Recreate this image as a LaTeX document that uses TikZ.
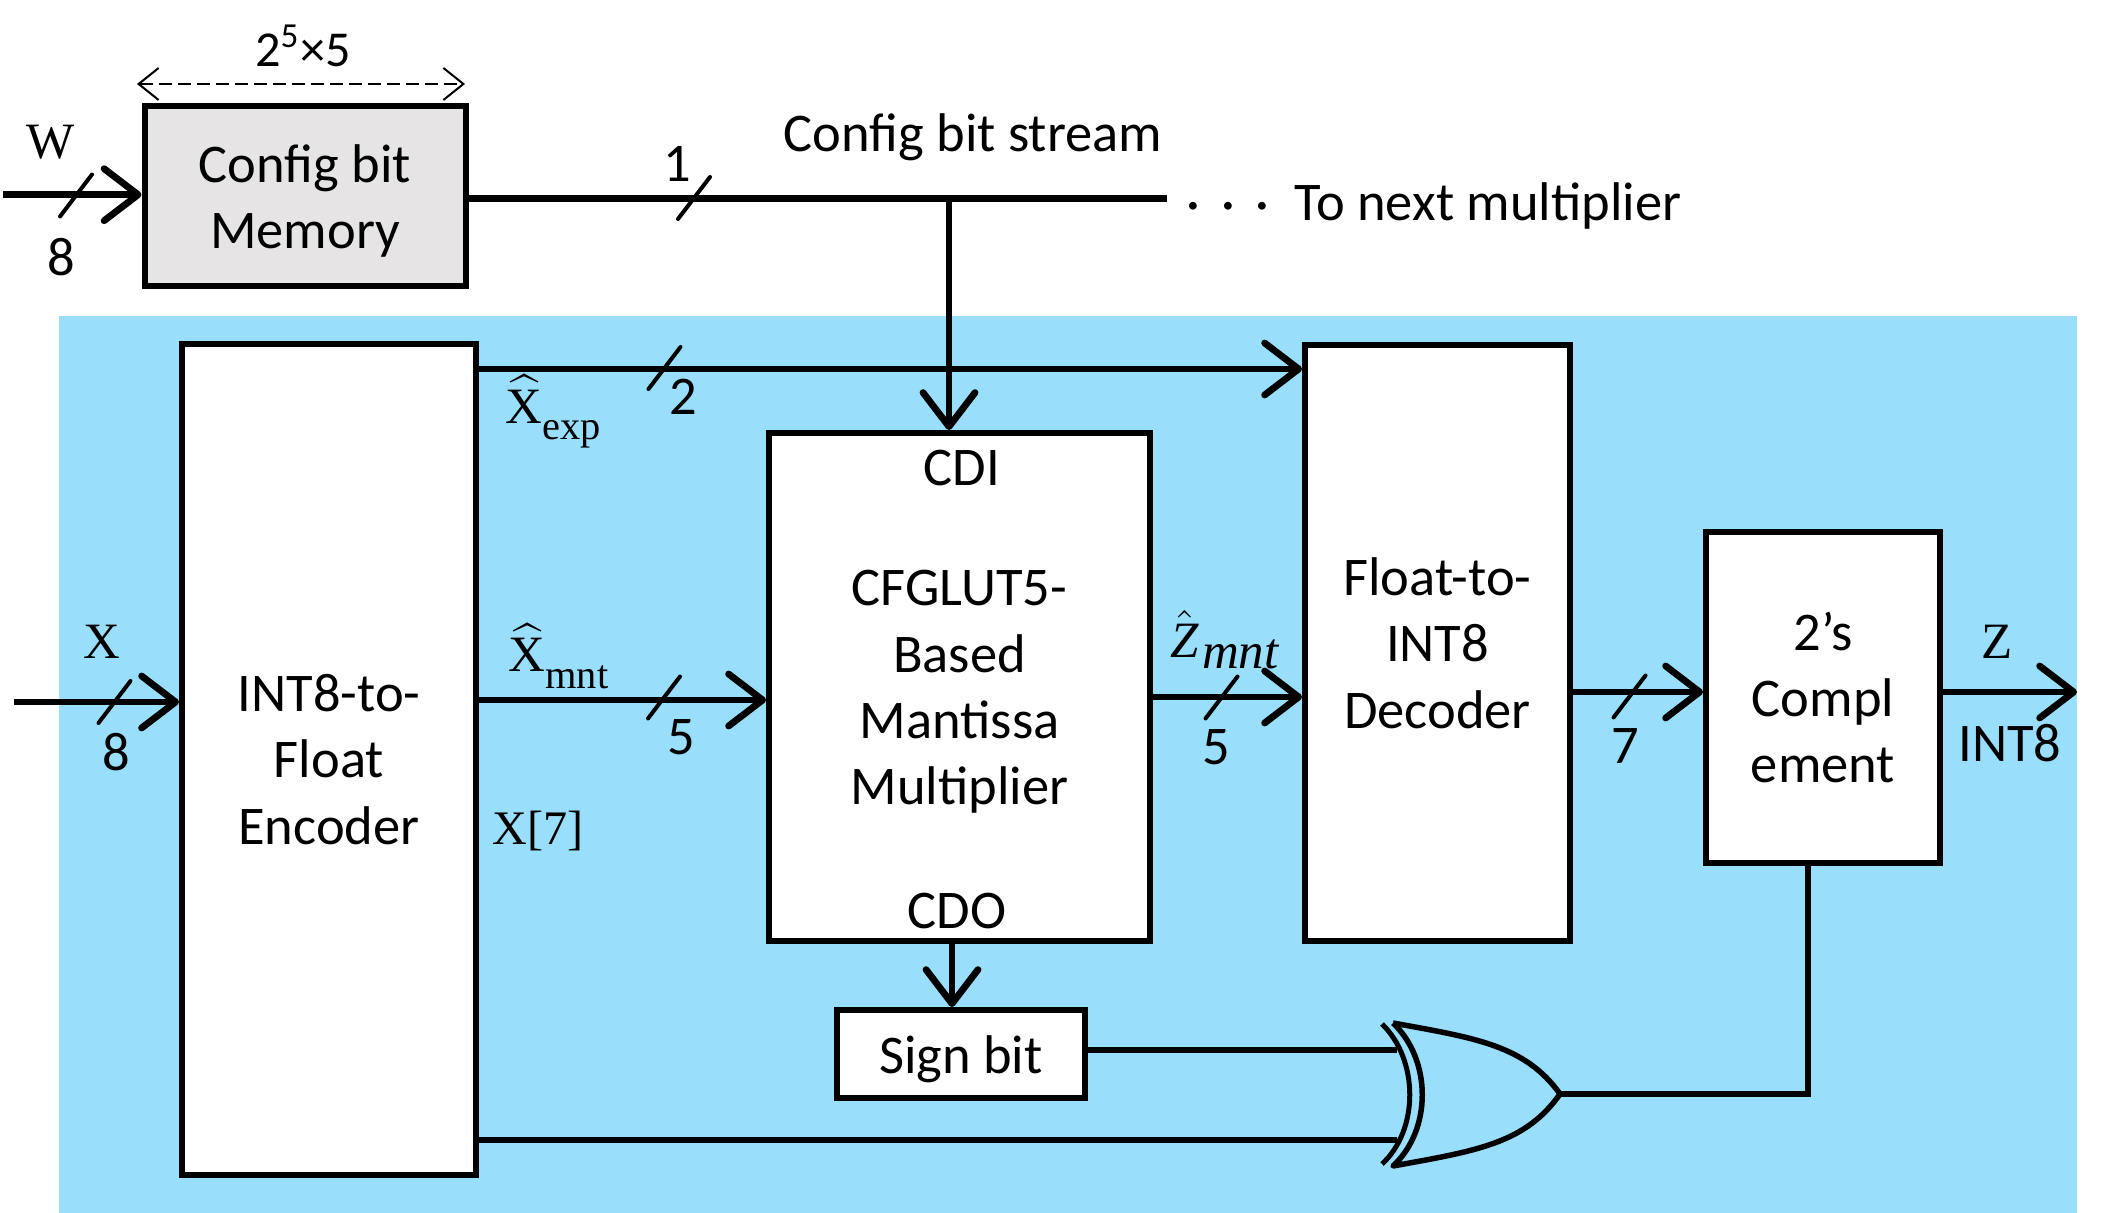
\documentclass[tikz,border=0pt]{standalone}
\usepackage{amsmath}
\usepackage{fontspec}
\setmainfont{Carlito}
\newfontfamily\romain{Liberation Serif}
\usetikzlibrary{arrows.meta}
\definecolor{bleuzone}{HTML}{99DEFB}
\definecolor{grismem}{HTML}{E6E4E5}
\newcommand{\barre}[1]{\draw[trait] ([shift={(-0.16,-0.21)}]#1) -- ([shift={(0.16,0.21)}]#1);}
\newcommand{\haut}[1]{\rule{0pt}{#1}}

\begin{document}
\begin{tikzpicture}
	\tikzset{boite/.style={rectangle, draw=black, fill=white, line width=0.06cm, inner sep=0, font=\fontsize{15.5}{18.9}\selectfont, align=center},
		etiq/.style={inner sep=0, font=\fontsize{15.5}{18.9}\selectfont},
		lettre/.style={inner sep=0, font=\fontsize{14.5}{17}\selectfont\romain},
		fil/.style={line width=0.068cm},
		fleche/.style={fil, ->, >={Straight Barb[length=0.34cm, width=0.52cm, round]}},
		cote/.style={line width=0.02cm, dash pattern=on 0.13cm off 0.06cm, <->, >={Straight Barb[length=0.2cm, width=0.32cm]}},
		trait/.style={line width=0.04cm, line cap=round}};

	\useasboundingbox (0,0) rectangle (21.14,-12.13);
	\fill[bleuzone] (0.59,-3.16) rectangle (20.77,-12.13);

	\node[boite, fill=grismem, minimum width=3.21cm, minimum height=1.80cm] (mem) at (3.05,-1.96) {\haut{13.6pt}Config bit\\Memory};
	\node[boite, minimum width=2.94cm, minimum height=8.31cm] (enc) at (3.29,-7.595) {INT8-to-\\Float\\Encoder};
	\node[boite, minimum width=3.81cm, minimum height=5.08cm] (mult) at (9.595,-6.87) {\haut{12.9pt}CFGLUT5-\\Based\\Mantissa\\Multiplier};
	\node[boite, minimum width=2.65cm, minimum height=5.96cm] (dec) at (14.375,-6.43) {Float-to-\\INT8\\Decoder};
	\node[boite, minimum width=2.34cm, minimum height=3.31cm] (cpl) at (18.23,-6.975) {2’s\\Compl\\ement};
	\node[boite, minimum width=2.48cm, minimum height=0.88cm] (sgn) at (9.61,-10.54) {\haut{13.6pt}Sign bit};

	\node[etiq] (cdi) at (9.62,-4.68) {CDI};
	\node[etiq] (cdo) at (9.57,-9.11) {CDO};
	\node[etiq, font=\fontsize{14.3}{17}\selectfont] (taille) at (3.03,-0.46) {2\textsuperscript{5}×5};
	\node[etiq] (flux) at (9.73,-1.37) {Config bit stream};
	\node[etiq] (suite) at (14.88,-2.06) {To next multiplier};
	\node[etiq] (pts) at (12.28,-2.12) {·\hspace{0.21cm}·\hspace{0.21cm}·};
	\node[etiq] (sort) at (20.10,-7.43) {INT8};

	\node[etiq] (nw) at (0.61,-2.57) {8};
	\node[etiq] (n1) at (6.77,-1.64) {1};
	\node[etiq] (n2) at (6.83,-3.97) {2};
	\node[etiq] (nx) at (1.16,-7.52) {8};
	\node[etiq] (n5a) at (6.81,-7.37) {5};
	\node[etiq] (n5b) at (12.16,-7.47) {5};
	\node[etiq] (n7) at (16.25,-7.46) {7};

	\node[lettre] (lw) at (0.51,-1.42) {W};
	\node[lettre] (lx) at (1.02,-6.42) {X};
	\node[lettre] (lz) at (19.97,-6.42) {Z};
	\node[lettre, font=\fontsize{13.7}{17}\selectfont\romain] (lx7) at (5.38,-8.31) {X[7]};
	\node[lettre, anchor=west] (lxe) at (5.05,-4.12) {$\widehat{\mbox{X}}$\raisebox{-0.7ex}{\fontsize{11.5}{12}\selectfont exp}};
	\node[lettre, anchor=west] (lxm) at (5.08,-6.56) {$\widehat{\mbox{X}}$\raisebox{-0.7ex}{\fontsize{11.5}{12}\selectfont mnt}};
	\node[lettre, anchor=west] (lzm) at (11.70,-6.40) {\itshape $\hat{\mbox{Z}}$\hspace{0.03cm}\raisebox{-0.5ex}{mnt}};

	\coordinate (wg) at (0.03,-1.947);
	\coordinate (cg) at (1.37,-1.983);
	\coordinate (cd) at (4.65,-1.983);
	\coordinate (cfin) at (11.67,-1.983);
	\coordinate (cv) at (9.49,-1.983);
	\coordinate (dg) at (1.37,-0.84);
	\coordinate (dd) at (4.65,-0.84);
	\coordinate (pe) at (0,-3.69);
	\coordinate (pm) at (0,-7.00);
	\coordinate (xg) at (0.14,-7.02);
	\coordinate (pz) at (0,-6.97);
	\coordinate (ps) at (0,-6.92);
	\coordinate (xh) at (13.97,-10.50);
	\coordinate (xb) at (13.97,-11.40);
	\coordinate (xs) at (15.60,-10.94);
	\coordinate (xc) at (18.08,-10.94);
	\coordinate (zfin) at (20.77,-6.92);

	\draw[fleche] (wg) -- (mem.west |- wg);
	\draw[fil] (mem.east |- cd) -- (cfin);
	\draw[fleche] (cv) -- (cv |- mult.north);
	\draw[cote] (dg) -- (dd);
	\draw[fleche] (enc.east |- pe) -- (dec.west |- pe);
	\draw[fleche] (xg) -- (enc.west |- xg);
	\draw[fleche] (enc.east |- pm) -- (mult.west |- pm);
	\draw[fleche] (mult.east |- pz) -- (dec.west |- pz);
	\draw[fleche] (dec.east |- ps) -- (cpl.west |- ps);
	\draw[fleche] (cpl.east |- ps) -- (zfin);
	\draw[fleche] (mult.south -| 9.52,0) -- (sgn.north -| 9.52,0);
	\draw[fil] (sgn.east |- xh) -- (xh);
	\draw[fil] (enc.east |- xb) -- (xb);
	\draw[fil] (xs) -- (xc) -- (xc |- cpl.south);

	\draw[line width=0.05cm] (13.82,-10.24) .. controls (14.19,-10.6) and (14.19,-11.3) .. (13.82,-11.64);
	\draw[line width=0.055cm, line join=round] (13.93,-10.23) .. controls (14.32,-10.6) and (14.32,-11.3) .. (13.93,-11.66)
		.. controls (14.75,-11.51) and (15.25,-11.44) .. (xs)
		.. controls (15.25,-10.45) and (14.75,-10.38) .. (13.93,-10.23);

	\coordinate (bw) at (0.76,-1.955);
	\coordinate (b1) at (6.94,-1.98);
	\coordinate (b2) at (6.645,-3.68);
	\coordinate (bx) at (1.145,-7.02);
	\coordinate (b5a) at (6.64,-6.975);
	\coordinate (b5b) at (12.215,-6.975);
	\coordinate (b7) at (16.295,-6.965);
	\barre{bw}
	\barre{b1}
	\barre{b2}
	\barre{bx}
	\barre{b5a}
	\barre{b5b}
	\barre{b7}

\end{tikzpicture}
\end{document}
